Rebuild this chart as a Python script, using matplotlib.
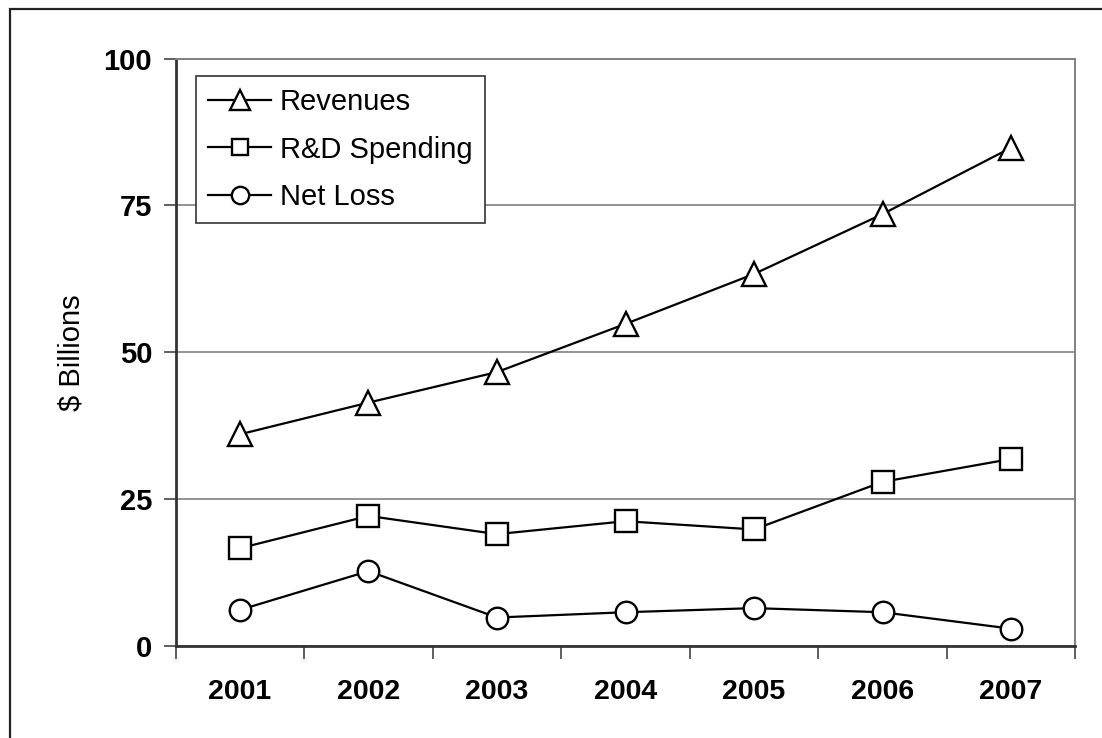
import matplotlib
matplotlib.use('Agg')
import matplotlib.pyplot as plt
from matplotlib.patches import Rectangle

plt.rcParams['font.family'] = ['Liberation Sans', 'DejaVu Sans']

# Yearly figures in $ billions
years = ['2001', '2002', '2003', '2004', '2005', '2006', '2007']
revenues = [36.0, 41.4, 46.6, 54.8, 63.3, 73.5, 84.8]
rnd_spending = [16.6, 22.1, 19.0, 21.2, 19.8, 27.9, 31.8]
net_loss = [6.1, 12.7, 4.8, 5.7, 6.4, 5.7, 2.9]
y_ticks = [0, 25, 50, 75, 100]

W, H = 1102, 738
fig = plt.figure(figsize=(W / 100, H / 100), dpi=100)
ax = fig.add_axes([175.7 / W, 1 - 645.7 / H, (1075.3 - 175.7) / W, (645.7 - 58.5) / H])

# outer frame, only the left and top edges fall inside the canvas
fig.patches.append(Rectangle((10 / W, -0.5), 2, 1.5 - 9 / H, transform=fig.transFigure,
                             fill=False, edgecolor='#222222', linewidth=1.6))

x = list(range(len(years)))
style = dict(color='black', linewidth=1.6, markerfacecolor='white',
             markeredgecolor='black', markeredgewidth=1.7, zorder=3, clip_on=False)
ax.plot(x, revenues, marker='^', markersize=17, label='Revenues', **style)
ax.plot(x, rnd_spending, marker='s', markersize=15.5, label='R&D Spending', **style)
ax.plot(x, net_loss, marker='o', markersize=15.5, label='Net Loss', **style)

ax.set_xlim(-0.5, len(years) - 0.5)
ax.set_ylim(0, 100)

# category ticks sit between years, labels at the centres
ax.set_xticks([i - 0.5 for i in range(len(years) + 1)])
ax.set_xticklabels([])
ax.set_xticks(x, minor=True)
ax.set_xticklabels(years, minor=True, fontsize=20.5, fontweight='bold')
ax.tick_params(axis='x', which='major', direction='out', length=9, width=1.2, color='#444444')
ax.tick_params(axis='x', which='minor', length=0, pad=24)

ax.set_yticks(y_ticks)
ax.set_yticklabels([str(v) for v in y_ticks], fontsize=21, fontweight='bold')
ax.tick_params(axis='y', direction='out', length=9, width=1.2, color='#444444', pad=8)

ax.grid(axis='y', color='#808080', linewidth=1.2)
ax.set_axisbelow(True)
for side in ['left', 'bottom']:
    ax.spines[side].set_color('#333333')
    ax.spines[side].set_linewidth(2)
for side in ['top', 'right']:
    ax.spines[side].set_color('#808080')
    ax.spines[side].set_linewidth(1.4)

fig.text(71 / W, 1 - 353 / H, '$ Billions', rotation=90, ha='center', va='center', fontsize=21)

leg = ax.legend(loc='upper left', bbox_to_anchor=(196 / W, 1 - 76 / H),
                bbox_transform=fig.transFigure, fontsize=21, frameon=True,
                fancybox=False, edgecolor='#333333', framealpha=1,
                handlelength=2.15, handletextpad=0.3, borderpad=0.42,
                labelspacing=0.66, borderaxespad=0)
leg.get_frame().set_linewidth(1.2)
for handle, ms in zip(leg.legend_handles, [14, 11.5, 12.5]):
    handle.set_markersize(ms)

fig.savefig('out.png', dpi=100, facecolor='white')
